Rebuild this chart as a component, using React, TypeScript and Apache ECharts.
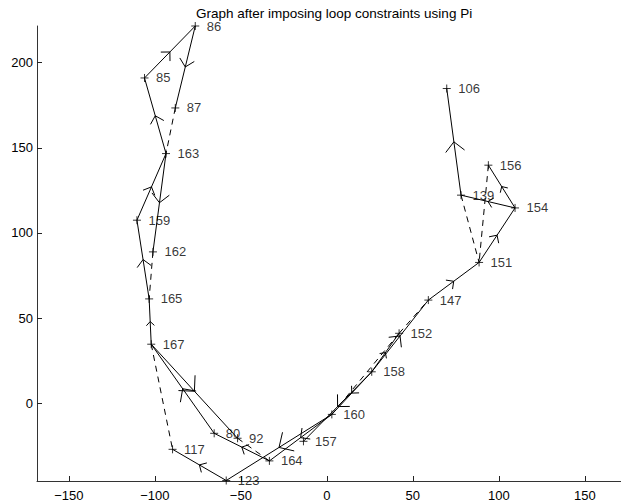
import React, { useEffect, useRef } from "react";
import * as echarts from "echarts";

const chartTitle = "Graph after imposing loop constraints using Pi";

const nodeIds = ["85", "86", "87", "163", "159", "162", "165", "167", "80", "92", "117", "123", "164", "157", "160", "158", "152", "147", "151", "154", "156", "139", "106"];
const nodeX = [-106.0, -76.5, -88.1, -93.5, -110.4, -101.1, -103.3, -102.1, -65.5, -51.9, -89.7, -58.5, -33.4, -13.6, 2.9, 26.1, 42.0, 59.0, 88.5, 109.4, 93.9, 78.0, 69.7];
const nodeY = [191.0, 221.5, 173.4, 146.6, 107.5, 88.9, 61.3, 34.7, -17.6, -20.5, -27.0, -45.3, -33.8, -22.3, -6.5, 18.5, 41.1, 60.6, 82.7, 114.7, 139.8, 122.2, 184.8];

// directed odometry edges (arrow at midpoint)
const solidFrom = ["85", "86", "163", "159", "163", "165", "167", "80", "167", "164", "160", "123", "160", "158", "158", "158", "158", "147", "151", "154", "154", "139"];
const solidTo = ["86", "87", "85", "163", "162", "159", "165", "167", "92", "80", "123", "117", "164", "160", "157", "152", "147", "151", "154", "156", "139", "106"];

// loop constraints (dashed)
const dashedFrom = ["87", "162", "167", "92", "139", "156", "160", "152"];
const dashedTo = ["163", "165", "117", "164", "151", "151", "152", "147"];

const xTicks = [-150, -100, -50, 0, 50, 100, 150];
const yTicks = [0, 50, 100, 150, 200];

const fontFamily = "'Liberation Sans', Arial, Helvetica, sans-serif";

function pos(id: string): [number, number] {
  const i = nodeIds.indexOf(id);
  return [nodeX[i], nodeY[i]];
}

export default function App() {
  const ref = useRef<HTMLDivElement>(null);
  useEffect(() => {
    if (!ref.current) return;
    const chart = echarts.init(ref.current, null, { renderer: "svg" });

    const edgeData: number[][] = [];
    solidFrom.forEach((f, i) => {
      const a = pos(f);
      const b = pos(solidTo[i]);
      edgeData.push([a[0], a[1], b[0], b[1], 0]);
    });
    dashedFrom.forEach((f, i) => {
      const a = pos(f);
      const b = pos(dashedTo[i]);
      edgeData.push([a[0], a[1], b[0], b[1], 1]);
    });

    const nodeData = nodeIds.map((id, i) => ({ value: [nodeX[i], nodeY[i]], name: id }));

    const minusFmt = (v: number) => (v < 0 ? "\u2212" + String(-v) : String(v));

    chart.setOption({
      animation: false,
      title: {
        text: chartTitle,
        left: 196,
        top: 6,
        padding: 0,
        textStyle: { fontSize: 13.5, fontWeight: "normal", color: "#000", fontFamily },
      },
      grid: { left: 37, right: 0, top: 26, bottom: 23, containLabel: false },
      xAxis: {
        type: "value",
        min: -168.5,
        max: 171,
        splitLine: { show: false },
        axisLine: { show: true, onZero: false, lineStyle: { color: "#333", width: 1 } },
        axisTick: { show: true, inside: true, length: 5, customValues: xTicks, lineStyle: { color: "#222" } },
        axisLabel: { customValues: xTicks, fontSize: 13, margin: 8, color: "#000", fontFamily, formatter: minusFmt },
      },
      yAxis: {
        type: "value",
        min: -45.6,
        max: 221.5,
        splitLine: { show: false },
        axisLine: { show: true, onZero: false, lineStyle: { color: "#333", width: 1 } },
        axisTick: { show: true, inside: true, length: 5, customValues: yTicks, lineStyle: { color: "#222" } },
        axisLabel: { customValues: yTicks, fontSize: 13, margin: 4, color: "#000", fontFamily, formatter: minusFmt },
      },
      series: [
        {
          type: "custom",
          coordinateSystem: "cartesian2d",
          encode: { x: [0, 2], y: [1, 3] },
          silent: true,
          data: edgeData,
          renderItem: (params: any, api: any) => {
            const p1 = api.coord([api.value(0), api.value(1)]);
            const p2 = api.coord([api.value(2), api.value(3)]);
            const dashed = api.value(4) === 1;
            const children: any[] = [
              {
                type: "line",
                shape: { x1: p1[0], y1: p1[1], x2: p2[0], y2: p2[1] },
                style: { stroke: "#000", lineWidth: 1, lineDash: dashed ? [6, 5] : null, fill: null },
              },
            ];
            if (!dashed) {
              const dx = p2[0] - p1[0];
              const dy = p2[1] - p1[1];
              const L = Math.hypot(dx, dy);
              const mx = (p1[0] + p2[0]) / 2;
              const my = (p1[1] + p2[1]) / 2;
              const bx = -dx / L;
              const by = -dy / L;
              const w = 0.125 * L;
              const c = Math.SQRT1_2;
              const s = Math.SQRT1_2;
              const w1 = [mx + w * (bx * c - by * s), my + w * (bx * s + by * c)];
              const w2 = [mx + w * (bx * c + by * s), my + w * (-bx * s + by * c)];
              children.push({
                type: "polyline",
                shape: { points: [w1, [mx, my], w2] },
                style: { stroke: "#000", lineWidth: 1, fill: null },
              });
            }
            return { type: "group", children };
          },
          z: 2,
        },
        {
          type: "scatter",
          data: nodeData,
          symbol: "path://M5 0L5 10M0 5L10 5",
          symbolSize: 8,
          silent: true,
          itemStyle: { color: "none", borderColor: "#000", borderWidth: 1 },
          label: {
            show: true,
            position: "right",
            distance: 5,
            formatter: (p: any) => p.name,
            fontSize: 13,
            color: "#000",
            fontFamily,
          },
          z: 3,
        },
      ],
    });
    return () => chart.dispose();
  }, []);
  return <div ref={ref} style={{ position: "absolute", left: 0, top: 0, width: 621, height: 504 }} />;
}
